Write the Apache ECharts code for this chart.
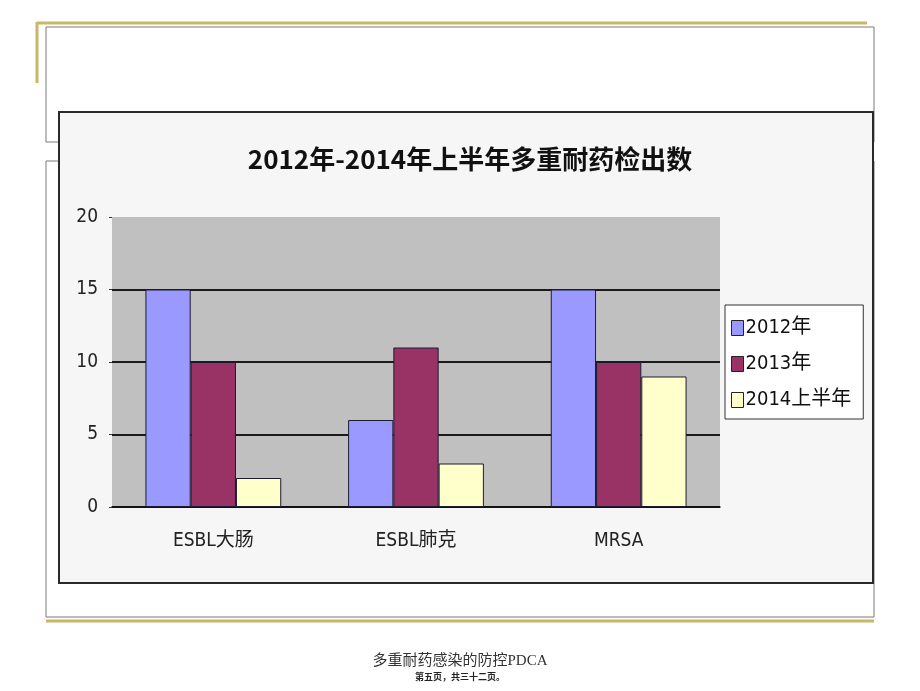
<!DOCTYPE html>
<html>
<head>
<meta charset="utf-8">
<title>多重耐药检出数</title>
<script src="https://cdn.jsdelivr.net/npm/echarts@6/dist/echarts.min.js"></script>
<style>
  html, body { margin: 0; padding: 0; background: #fff; }
  #chart { width: 920px; height: 691px; }
</style>
</head>
<body>
<div id="chart"></div>
<script>
// 数据
var categories = ["ESBL大肠", "ESBL肺克", "MRSA"];
var seriesNames = ["2012年", "2013年", "2014上半年"];
var values2012 = [15, 6, 15];
var values2013 = [10, 11, 10];
var values2014h1 = [2, 3, 9];
var yTicks = [0, 5, 10, 15, 20];

var colors = ["#9999ff", "#993366", "#ffffcc"];
var narrow = "'Liberation Sans Narrow','DejaVu Sans Condensed','Noto Sans CJK SC',sans-serif";
var gold = "#c9b766";
var frame = "#7a7a7a";

var chart = echarts.init(document.getElementById("chart"));

function bar(name, data, color) {
  return {
    name: name,
    type: "bar",
    data: data,
    barGap: "0%",
    barCategoryGap: "33%",
    itemStyle: { color: color, borderColor: "#1c1c2e", borderWidth: 1 }
  };
}

chart.setOption({
  backgroundColor: "#ffffff",
  animation: false,
  title: {
    text: "2012年-2014年上半年多重耐药检出数",
    left: 465,
    top: 141,
    textAlign: "center",
    textStyle: {
      fontFamily: "'Noto Sans CJK SC',sans-serif",
      fontWeight: "bold",
      fontSize: 26,
      color: "#111"
    }
  },
  legend: {
    orient: "vertical",
    left: 725,
    top: 305,
    icon: "rect",
    itemWidth: 12,
    itemHeight: 15,
    itemGap: 16,
    padding: [13, 12, 9, 6],
    backgroundColor: "#ffffff",
    borderColor: "#333",
    borderWidth: 1,
    data: seriesNames,
    itemStyle: { borderColor: "#222", borderWidth: 1 },
    textStyle: { fontFamily: narrow, fontSize: 20, color: "#111", padding: [0, 0, 0, -3] }
  },
  grid: {
    left: 112,
    right: 200,
    top: 217,
    bottom: 184,
    show: true,
    backgroundColor: "#c0c0c0",
    borderWidth: 0
  },
  xAxis: {
    type: "category",
    data: categories,
    axisLine: { lineStyle: { color: "#111", width: 1.5 } },
    axisTick: { inside: true, length: 8, lineStyle: { color: "#111", width: 1.5 } },
    axisLabel: { margin: 25, fontFamily: narrow, fontSize: 19, color: "#222" }
  },
  yAxis: {
    type: "value",
    min: yTicks[0],
    max: yTicks[yTicks.length - 1],
    interval: yTicks[1] - yTicks[0],
    axisLine: { show: false },
    axisTick: { show: true, length: 3, lineStyle: { color: "#333" } },
    axisLabel: { margin: 14, fontFamily: narrow, fontSize: 19, color: "#222" },
    splitLine: { show: true, showMaxLine: false, lineStyle: { color: "#1a1a1a", width: 2 } }
  },
  graphic: [
    // 幻灯片边框
    { type: "line", z: -10, shape: { x1: 37, y1: 23, x2: 867, y2: 23 }, style: { stroke: gold, lineWidth: 3 } },
    { type: "line", z: -10, shape: { x1: 37, y1: 22, x2: 37, y2: 83 }, style: { stroke: gold, lineWidth: 3 } },
    { type: "rect", z: -10, shape: { x: 46, y: 27, width: 828, height: 115 }, style: { fill: "#fff", stroke: frame, lineWidth: 1 } },
    { type: "rect", z: -10, shape: { x: 46, y: 161, width: 828, height: 456 }, style: { fill: "#fff", stroke: frame, lineWidth: 1 } },
    { type: "line", z: -10, shape: { x1: 46, y1: 621, x2: 874, y2: 621 }, style: { stroke: gold, lineWidth: 3 } },
    // 图表图片区域
    { type: "rect", z: -5, shape: { x: 59, y: 112, width: 814, height: 471 }, style: { fill: "#f6f6f6", stroke: "#2a2a2a", lineWidth: 2 } },
    // 页脚
    {
      type: "text", x: 460, y: 661,
      style: {
        text: "多重耐药感染的防控PDCA", align: "center", verticalAlign: "middle",
        font: "15px 'Liberation Serif','Noto Sans CJK SC',serif", fill: "#333"
      }
    },
    {
      type: "text", x: 460, y: 677,
      style: {
        text: "第五页，共三十二页。", align: "center", verticalAlign: "middle",
        font: "bold 9px 'Noto Sans CJK SC',sans-serif", fill: "#222"
      }
    }
  ],
  series: [
    bar(seriesNames[0], values2012, colors[0]),
    bar(seriesNames[1], values2013, colors[1]),
    bar(seriesNames[2], values2014h1, colors[2])
  ]
});
</script>
</body>
</html>
